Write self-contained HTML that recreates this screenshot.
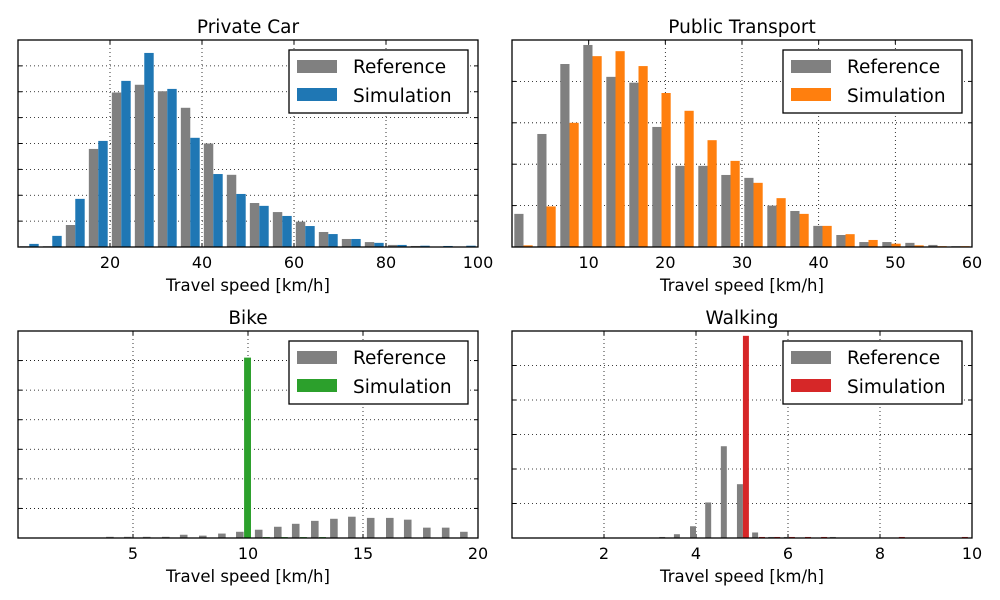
<!DOCTYPE html>
<html><head><meta charset="utf-8"><style>
body{margin:0;background:#fff;}
svg{display:block;font-family:"DejaVu Sans","Liberation Sans",sans-serif;}
</style></head><body>
<svg id="fig" width="1000" height="600"></svg>
<script>
// ---- Private Car ----
const carBins = [0,5,10,15,20,25,30,35,40,45,50,55,60,65,70,75,80,85,90,95];
const carRef = [0.03,0.03,0.85,3.79,5.97,6.27,6.02,5.38,4.0,2.79,1.70,1.35,0.98,0.58,0.31,0.19,0.08,0.04,0.01,0.01];
const carSim = [0.12,0.43,1.86,4.1,6.42,7.5,6.11,4.22,2.82,2.05,1.59,1.2,0.81,0.5,0.31,0.16,0.08,0.05,0.04,0.05];
const carTicks = [20,40,60,80,100];
// ---- Public Transport ----
const ptBins = [0,3,6,9,12,15,18,21,24,27,30,33,36,39,42,45,48,51,54,57];
const ptRef = [0.80,2.73,4.42,4.88,4.11,3.97,2.90,1.96,1.96,1.74,1.67,1.0,0.87,0.51,0.29,0.12,0.12,0.1,0.05,0.02];
const ptSim = [0.04,0.98,3.0,4.61,4.73,4.37,3.72,3.29,2.58,2.08,1.55,1.18,0.80,0.51,0.31,0.17,0.08,0.04,0.02,0.02];
const ptTicks = [10,20,30,40,50,60];
// ---- Bike ----
const bikeRefX = [3.83,4.61,5.43,6.26,7.04,7.87,8.70,9.48,10.30,11.13,11.91,12.74,13.57,14.35,15.17,16.0,16.78,17.61,18.43,19.22];
const bikeRef = [0.04,0.04,0.04,0.04,0.11,0.08,0.15,0.21,0.28,0.38,0.48,0.58,0.65,0.72,0.68,0.68,0.62,0.35,0.35,0.21];
const bikeSimX = [9.83,10.65,11.43,12.26,13.09];
const bikeSim = [6.1,0.03,0.03,0.03,0.03];
const bikeTicks = [5,10,15,20];
// ---- Walking ----
const walkRefX = [3.2,3.52,3.87,4.2,4.54,4.89,5.22,5.57,5.91,6.91];
const walkRef = [0.03,0.11,0.34,1.03,2.66,1.56,0.16,0.03,0.03,0.03];
const walkSimX = [5.02,5.37,5.7,6.02,6.37,6.72,8.41,9.78];
const walkSim = [5.86,0.03,0.03,0.03,0.03,0.03,0.03,0.03];
const walkTicks = [2,4,6,8,10];

const NS="http://www.w3.org/2000/svg";
const svg=document.getElementById('fig');
function mk(tag,attrs,parent){const e=document.createElementNS(NS,tag);for(const k in attrs)e.setAttribute(k,attrs[k]);(parent||svg).appendChild(e);return e;}

function panel(o){
  const g=mk('g',{});
  
  
  const X=v=>o.x0+(v-o.xmin)/(o.xmax-o.xmin)*(o.x1-o.x0);
  const Y=v=>o.y1-v/o.ymax*(o.y1-o.y0);
  for(let i=1;i<o.ymax;i++){
    const l=mk('line',{x1:o.x0,x2:o.x1,y1:Y(i),y2:Y(i),stroke:'#000','stroke-width':0.8,'stroke-dasharray':'1,3'},g);
    
    
    mk('line',{x1:o.x0,x2:o.x0+4,y1:Y(i),y2:Y(i),stroke:'#000'},g);
    mk('line',{x1:o.x1-4,x2:o.x1,y1:Y(i),y2:Y(i),stroke:'#000'},g);
  }
  o.ticks.forEach(t=>{
    if(t<o.xmax){
      const l=mk('line',{x1:X(t),x2:X(t),y1:o.y0,y2:o.y1,stroke:'#000','stroke-width':0.8,'stroke-dasharray':'1,3'},g);
      
      
    }
    mk('line',{x1:X(t),x2:X(t),y1:o.y1,y2:o.y1-4,stroke:'#000'},g);
    mk('line',{x1:X(t),x2:X(t),y1:o.y0,y2:o.y0+4,stroke:'#000'},g);
    const tx=mk('text',{x:X(t),y:o.y1+21,'text-anchor':'middle','font-size':16},g);
    tx.textContent=t;
    
    
  });
  o.series.forEach(s=>{
    s.xs.forEach((xv,i)=>{
      const h=s.vals[i];
      const r=mk('rect',{x:X(xv+s.off),y:Y(h),width:X(xv+s.off+s.w)-X(xv+s.off),height:Y(0)-Y(h),fill:s.color},g);
      
      
    });
  });
  const f=mk('rect',{x:o.x0,y:o.y0,width:o.x1-o.x0,height:o.y1-o.y0,fill:'none',stroke:'#000','stroke-width':1.3},g);
  
  
  const ti=mk('text',{x:(o.x0+o.x1)/2,y:o.y0-7,'text-anchor':'middle','font-size':18.5},g);
  ti.textContent=o.title;
  
  
  const xl=mk('text',{x:(o.x0+o.x1)/2,y:o.y1+44,'text-anchor':'middle','font-size':16.5},g);
  xl.textContent='Travel speed [km/h]';
  
  
  const lx=o.x1-189, ly=o.y0+10;
  const lg=mk('g',{},g);
  
  
  mk('rect',{x:lx,y:ly,width:179,height:63,fill:'#fff',stroke:'#000','stroke-width':1.3},lg);
  [['Reference','#808080'],['Simulation',o.series[1].color]].forEach((e,i)=>{
    const en=mk('g',{},lg);
    
    
    mk('rect',{x:lx+8,y:ly+10+i*28,width:40,height:13,fill:e[1]},en);
    const t=mk('text',{x:lx+64,y:ly+23+i*29,'font-size':18.5},en);
    t.textContent=e[0];
  });
}
const gray='#808080';
panel({name:'private-car',title:'Private Car',x0:18,x1:478,y0:40,y1:247,xmin:0,xmax:100,ymax:8,ticks:carTicks,
  series:[{key:'car-reference',xs:carBins,vals:carRef,off:0.4,w:2.05,color:gray},{key:'car-simulation',xs:carBins,vals:carSim,off:2.45,w:2.05,color:'#1f77b4'}]});
panel({name:'public-transport',title:'Public Transport',x0:512,x1:972,y0:40,y1:247,xmin:0,xmax:60,ymax:5,ticks:ptTicks,
  series:[{key:'pt-reference',xs:ptBins,vals:ptRef,off:0.3,w:1.2,color:gray},{key:'pt-simulation',xs:ptBins,vals:ptSim,off:1.5,w:1.2,color:'#ff7f0e'}]});
panel({name:'bike',title:'Bike',x0:18,x1:478,y0:331,y1:538,xmin:0,xmax:20,ymax:7,ticks:bikeTicks,
  series:[{key:'bike-reference',xs:bikeRefX,vals:bikeRef,off:0,w:0.33,color:gray},{key:'bike-simulation',xs:bikeSimX,vals:bikeSim,off:0,w:0.3,color:'#2ca02c'}]});
panel({name:'walking',title:'Walking',x0:512,x1:972,y0:331,y1:538,xmin:0,xmax:10,ymax:6,ticks:walkTicks,
  series:[{key:'walk-reference',xs:walkRefX,vals:walkRef,off:0,w:0.13,color:gray},{key:'walk-simulation',xs:walkSimX,vals:walkSim,off:0,w:0.13,color:'#d62728'}]});
</script>
</body></html>
